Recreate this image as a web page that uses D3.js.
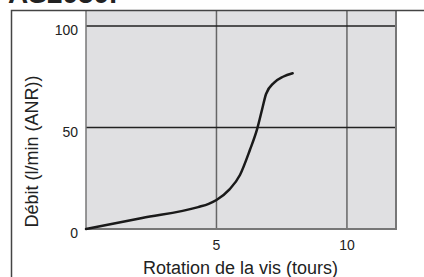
<!DOCTYPE html>
<html>
<head>
<meta charset="utf-8">
<script src="https://cdn.jsdelivr.net/npm/d3@7"></script>
<style>
  body { margin: 0; background: #fff; }
  text { font-family: "Liberation Sans", Arial, sans-serif; fill: #222; }
</style>
</head>
<body>
<svg id="chart"></svg>
<script>
// values
var turns = [0, 2.15, 4.3, 4.7, 5.0, 5.5, 5.9, 6.28, 6.56, 6.75, 6.9, 7.2, 7.55, 7.92];
var flow  = [0, 5.4, 10.8, 12.4, 14.3, 19.5, 26.6, 38.9, 49.3, 59, 66.5, 72, 75, 76.7];
var xTicks = [5, 10];
var yTicks = [0, 50, 100];

var width = 424, height = 277;
var svg = d3.select("#chart")
  .attr("width", width)
  .attr("height", height);

var x = d3.scaleLinear().domain([0, 11.88]).range([86, 396]);
var y = d3.scaleLinear().domain([0, 100]).range([229, 26]);

// cut-off title at the top
svg.append("text")
  .attr("x", 8).attr("y", 3)
  .style("font-size", "28px").style("font-weight", "bold")
  .text("AS2050.");

// plot background
svg.append("rect")
  .attr("x", x(0)).attr("y", 10)
  .attr("width", x(11.88) - x(0)).attr("height", y(0) - 10)
  .attr("fill", "#e0e0e2");

// vertical grid
svg.append("g").selectAll("line")
  .data(xTicks)
  .enter().append("line")
    .attr("x1", function(d) { return x(d); })
    .attr("x2", function(d) { return x(d); })
    .attr("y1", 10).attr("y2", y(0))
    .attr("stroke", "#666").attr("stroke-width", 1.5);

// horizontal grid
svg.append("g").selectAll("line")
  .data([50, 100])
  .enter().append("line")
    .attr("x1", x(0)).attr("x2", x(11.88))
    .attr("y1", function(d) { return y(d); })
    .attr("y2", function(d) { return y(d); })
    .attr("stroke", "#222").attr("stroke-width", 1.3);

// plot edges
svg.append("line")
  .attr("x1", x(0)).attr("x2", x(0)).attr("y1", 10).attr("y2", y(0))
  .attr("stroke", "#777").attr("stroke-width", 1.5);
svg.append("line")
  .attr("x1", x(0)).attr("x2", x(11.88) + 1).attr("y1", y(0)).attr("y2", y(0))
  .attr("stroke", "#777").attr("stroke-width", 2);
svg.append("line")
  .attr("x1", x(11.88)).attr("x2", x(11.88)).attr("y1", 10).attr("y2", y(0))
  .attr("stroke", "#777").attr("stroke-width", 2);

// outer frame (top and left)
svg.append("path")
  .attr("d", "M11.5,277V10.5H424")
  .attr("fill", "none").attr("stroke", "#444").attr("stroke-width", 1.5);

// curve
var pts = turns.map(function(t, i) { return [t, flow[i]]; });
var line = d3.line()
  .x(function(d) { return x(d[0]); })
  .y(function(d) { return y(d[1]); })
  .curve(d3.curveMonotoneX);
svg.append("path")
  .datum(pts)
  .attr("d", line)
  .attr("fill", "none")
  .attr("stroke", "#1a1a1a")
  .attr("stroke-width", 2.5)
  .attr("stroke-linecap", "round");

// tick labels
svg.append("g").selectAll("text")
  .data(yTicks)
  .enter().append("text")
    .attr("x", 78)
    .attr("y", function(d) { return y(d) + 9; })
    .attr("text-anchor", "end")
    .style("font-size", "14px")
    .text(function(d) { return d; });

svg.append("g").selectAll("text")
  .data(xTicks)
  .enter().append("text")
    .attr("x", function(d) { return x(d); })
    .attr("y", 250)
    .attr("text-anchor", "middle")
    .style("font-size", "14px")
    .text(function(d) { return d; });

// axis titles
svg.append("text")
  .attr("x", 240.5).attr("y", 273.5)
  .attr("text-anchor", "middle")
  .style("font-size", "18px")
  .text("Rotation de la vis (tours)");

svg.append("text")
  .attr("transform", "translate(38,151.5) rotate(-90)")
  .attr("text-anchor", "middle")
  .style("font-size", "18px")
  .text("Débit (l/min (ANR))");
</script>
</body>
</html>
